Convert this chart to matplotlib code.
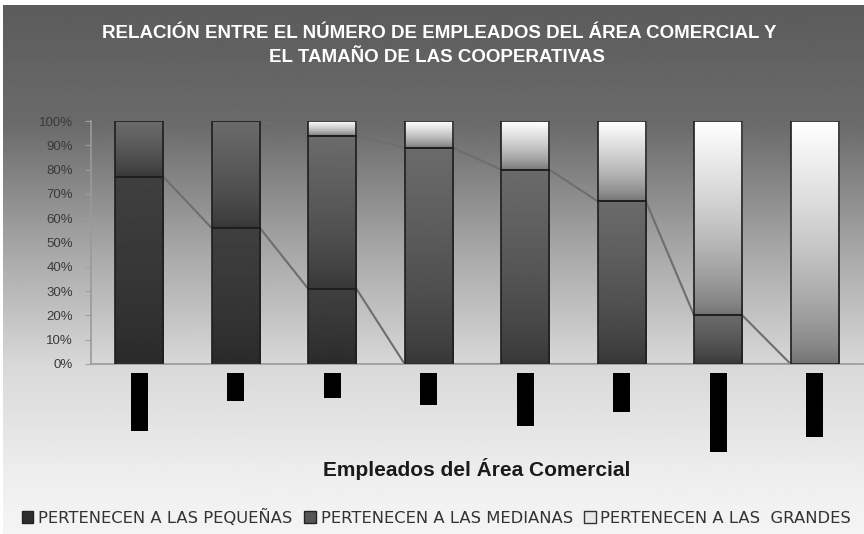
import matplotlib

matplotlib.use("Agg")
import matplotlib.pyplot as plt
import numpy as np
from matplotlib.patches import Patch, Rectangle
from matplotlib.ticker import FuncFormatter

plt.rcParams["font.family"] = ["Liberation Sans", "DejaVu Sans"]

TITLE_1 = "RELACIÓN ENTRE EL NÚMERO DE EMPLEADOS DEL ÁREA COMERCIAL Y"
TITLE_2 = "EL TAMAÑO DE LAS COOPERATIVAS"
XLABEL = "Empleados del Área Comercial"

SERIES_NAMES = [
    "PERTENECEN A LAS PEQUEÑAS",
    "PERTENECEN A LAS MEDIANAS",
    "PERTENECEN A LAS  GRANDES",
]

# share (%) of each size group per employee range
pequenas = [77, 56, 31, 0, 0, 0, 0, 0]
medianas = [23, 44, 63, 89, 80, 67, 20, 0]
grandes = [0, 0, 6, 11, 20, 33, 80, 100]

# blacked-out category labels, depth below the axis (in %)
label_box_depth = [27.4, 15.1, 14.0, 16.9, 25.5, 19.6, 36.1, 30.2]

# (bottom, top) gray levels of each segment's gradient fill
SEG_SHADES = [(0.16, 0.25), (0.21, 0.42), (0.44, 1.0)]
BAR_WIDTH = 0.5


def gradient_segment(ax, x, bottom, height, shade):
    if height <= 0:
        return
    lo, hi = shade
    s = np.linspace(0, 1, 256) ** 0.7
    grad = (lo + (hi - lo) * s).reshape(-1, 1)
    ax.imshow(
        grad,
        cmap="gray",
        vmin=0,
        vmax=1,
        origin="lower",
        aspect="auto",
        interpolation="bilinear",
        extent=[x - BAR_WIDTH / 2, x + BAR_WIDTH / 2, bottom, bottom + height],
        zorder=2,
    )
    ax.add_patch(
        Rectangle(
            (x - BAR_WIDTH / 2, bottom),
            BAR_WIDTH,
            height,
            facecolor="none",
            edgecolor="#1e1e1e",
            linewidth=1.2,
            zorder=3,
        )
    )


fig = plt.figure(figsize=(8.64, 5.34), dpi=100)

# page background: dark gray on top fading to near white
bg = fig.add_axes([0, 0, 1, 1], zorder=-10)
rows = np.arange(534)
ramp = np.interp(rows, [5, 121, 250, 364, 470, 534],
                 [0.36, 0.42, 0.66, 0.85, 0.93, 0.96])
bg.imshow(
    ramp.reshape(-1, 1) * np.ones((1, 2)),
    cmap="gray",
    vmin=0,
    vmax=1,
    aspect="auto",
    extent=[3 / 864, 1, 0, 1 - 5 / 534],
    origin="upper",
)
bg.set_xlim(0, 1)
bg.set_ylim(0, 1)
bg.axis("off")

ax = fig.add_axes([91 / 864, 1 - 364 / 534, 772 / 864, 243 / 534])
ax.patch.set_alpha(0)

series = [pequenas, medianas, grandes]
x = np.arange(len(pequenas))
bottoms = np.zeros(len(x))
tops = []
for vals, shade in zip(series, SEG_SHADES):
    for i, v in enumerate(vals):
        gradient_segment(ax, x[i], bottoms[i], v, shade)
    bottoms = bottoms + np.array(vals)
    tops.append(bottoms.copy())

# series lines joining segment tops between neighbouring bars
for top in tops[:2]:
    for i in range(len(x) - 1):
        ax.plot(
            [x[i] + BAR_WIDTH / 2, x[i + 1] - BAR_WIDTH / 2],
            [top[i], top[i + 1]],
            color="#6e6e6e",
            linewidth=1.5,
            zorder=1.5,
        )

# category label boxes under the axis
for i, d in enumerate(label_box_depth):
    ax.add_patch(
        Rectangle(
            (x[i] - 0.09, -d),
            0.18,
            d - 3.8,
            facecolor="black",
            edgecolor="none",
            clip_on=False,
            zorder=3,
        )
    )

ax.set_xlim(-0.5, len(x) - 0.5)
ax.set_ylim(0, 100)
ax.set_yticks(np.arange(0, 101, 10))
ax.yaxis.set_major_formatter(FuncFormatter(lambda v, _: f"{v:.0f}%"))
ax.set_xticks([])
ax.tick_params(axis="y", length=4, color="#a0a0a0", pad=9, labelsize=9.5,
               labelcolor="#3a3a3a")
for side in ("top", "right"):
    ax.spines[side].set_visible(False)
for side in ("left", "bottom"):
    ax.spines[side].set_color("#9a9a9a")
    ax.spines[side].set_linewidth(1.2)

fig.text(439 / 864, 1 - 33 / 534, TITLE_1, ha="center", va="center",
         color="white", fontsize=13.5, fontweight="bold")
fig.text(437 / 864, 1 - 58 / 534, TITLE_2, ha="center", va="center",
         color="white", fontsize=13.5, fontweight="bold")
fig.text(477 / 864, 1 - 469 / 534, XLABEL, ha="center", va="center",
         color="#1a1a1a", fontsize=15, fontweight="bold")

handles = [
    Patch(facecolor="#2e2e2e", edgecolor="#222222"),
    Patch(facecolor="#555555", edgecolor="#222222"),
    Patch(facecolor="#e8e8e8", edgecolor="#333333"),
]
leg = fig.legend(
    handles,
    SERIES_NAMES,
    loc="center left",
    bbox_to_anchor=(22 / 864, 1 - 517 / 534),
    ncol=3,
    frameon=False,
    prop={"family": "DejaVu Sans", "size": 11.8},
    handlelength=0.7,
    handleheight=0.7,
    handletextpad=0.3,
    columnspacing=0.7,
    borderaxespad=0,
    borderpad=0,
)
for txt in leg.get_texts():
    txt.set_color("#333333")

fig.savefig("out.png", dpi=100)
